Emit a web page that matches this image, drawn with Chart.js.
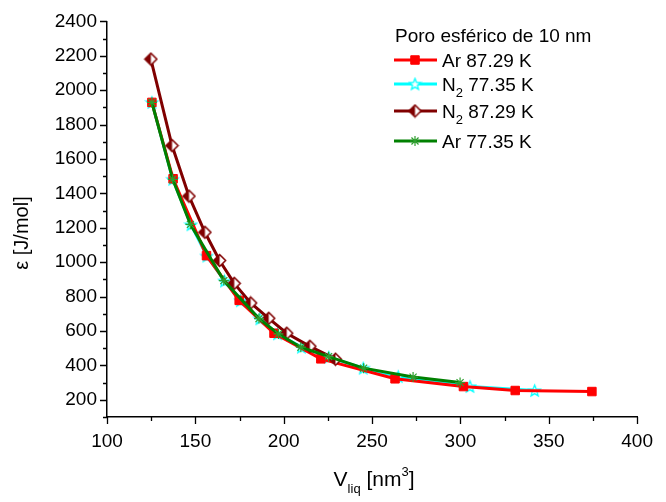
<!DOCTYPE html>
<html>
<head>
<meta charset="utf-8">
<script src="https://cdn.jsdelivr.net/npm/chart.js@4.4.0/dist/chart.umd.min.js"></script>
<style>
html,body{margin:0;padding:0;background:#fff;}
#wrap{width:666px;height:502px;}
</style>
</head>
<body>
<div id="wrap"><canvas id="c" width="666" height="502"></canvas></div>
<script>
// ---- data ----
const legendTitle = "Poro esférico de 10 nm";
const seriesNames = ["Ar 87.29 K", "N2 77.35 K", "N2 87.29 K", "Ar 77.35 K"];

const ar87V = [125.4, 137.4, 156.3, 174.8, 194.5, 221.0, 263.0, 301.7, 331.0, 374.4];
const ar87E = [1929, 1485, 1038, 778, 587, 438, 322, 277, 254, 248];

const n277V = [125.4, 137.2, 147.5, 156.5, 166.5, 175.5, 186.5, 196.5, 210.0, 225.5, 245.0, 264.8, 305.4, 342.0];
const n277E = [1929, 1482, 1218, 1036, 891, 776, 671, 584, 506, 448, 384, 335, 277, 254];

const n287V = [124.8, 136.8, 146.4, 155.4, 163.7, 172.0, 181.3, 191.5, 201.7, 214.8, 229.3];
const n287E = [2181, 1678, 1384, 1174, 1010, 877, 763, 674, 587, 511, 436];

const ar77V = [125.4, 137.2, 147.2, 166.1, 186.0, 197.0, 209.7, 225.4, 245.2, 273.2, 299.8];
const ar77E = [1929, 1482, 1220, 893, 672, 583, 506, 451, 384, 332, 300];

const xMin = 100, xMax = 400, xMajor = 50, xMinor = 25;
const yMin = 100, yMax = 2400, yMajor = 200, yMinor = 100;

function pts(xs, ys){ return xs.map((v,i)=>({x:v, y:ys[i]})); }

// ---- custom marker canvases ----
function halfDiamond(){
  const c = document.createElement('canvas'); c.width = 15; c.height = 15;
  const g = c.getContext('2d');
  const cx = 7.5, cy = 7.5, r = 6;
  g.beginPath(); g.moveTo(cx, cy-r); g.lineTo(cx+r, cy); g.lineTo(cx, cy+r); g.lineTo(cx-r, cy); g.closePath();
  g.fillStyle = '#fff'; g.fill();
  g.beginPath(); g.moveTo(cx, cy-r); g.lineTo(cx, cy+r); g.lineTo(cx-r, cy); g.closePath();
  g.fillStyle = '#800000'; g.fill();
  g.beginPath(); g.moveTo(cx, cy-r); g.lineTo(cx+r, cy); g.lineTo(cx, cy+r); g.lineTo(cx-r, cy); g.closePath();
  g.strokeStyle = '#800000'; g.lineWidth = 1.5; g.stroke();
  return c;
}
function openStar(){
  const c = document.createElement('canvas'); c.width = 15; c.height = 15;
  const g = c.getContext('2d');
  const cx = 7.5, cy = 8, R = 6, r = 2.6;
  g.beginPath();
  for (let i=0;i<10;i++){
    const a = -Math.PI/2 + i*Math.PI/5; const rr = i%2===0 ? R : r;
    const px = cx + rr*Math.cos(a), py = cy + rr*Math.sin(a);
    if(i===0) g.moveTo(px,py); else g.lineTo(px,py);
  }
  g.closePath(); g.fillStyle = '#fff'; g.fill();
  g.strokeStyle = '#00ffff'; g.lineWidth = 1.3; g.stroke();
  return c;
}
const diamondImg = halfDiamond();
const starImg = openStar();

const FONT = '"Liberation Sans", Arial, sans-serif';
const FS = 19;

// ---- ticks drawn from the scales (major longer, minor shorter) ----
const tickPlugin = {
  id: 'axisTicks',
  afterDraw(chart){
    const ctx = chart.ctx, ca = chart.chartArea, xs = chart.scales.x, ys = chart.scales.y;
    ctx.save();
    ctx.strokeStyle = '#000'; ctx.lineWidth = 1.3;
    ctx.beginPath();
    xs.ticks.forEach(t => {
      const px = Math.round(xs.getPixelForValue(t.value)) + 0.5;
      const len = (t.value % xMajor === 0) ? 7 : 4;
      ctx.moveTo(px, ca.bottom); ctx.lineTo(px, ca.bottom + len);
    });
    ys.ticks.forEach(t => {
      const py = Math.round(ys.getPixelForValue(t.value)) + 0.5;
      const len = (t.value % yMajor === 0) ? 7 : 4;
      ctx.moveTo(ca.left, py); ctx.lineTo(ca.left - len, py);
    });
    ctx.stroke();
    ctx.restore();
  }
};

// ---- axis titles and legend with sub/superscripts ----
function drawPieces(ctx, pieces, x, y){
  let cx = x;
  pieces.forEach(p => {
    ctx.font = p.f + 'px ' + FONT;
    ctx.fillText(p.t, cx, y + p.dy);
    cx += ctx.measureText(p.t).width;
  });
  return cx;
}
function piecesWidth(ctx, pieces){
  let w = 0;
  pieces.forEach(p => { ctx.font = p.f + 'px ' + FONT; w += ctx.measureText(p.t).width; });
  return w;
}
function labelPieces(name){
  if (name.startsWith('N2')) return [{t:'N', f:FS, dy:0}, {t:'2', f:13, dy:6}, {t:name.slice(2), f:FS, dy:0}];
  return [{t:name, f:FS, dy:0}];
}

const textPlugin = {
  id: 'texts',
  afterDraw(chart){
    const ctx = chart.ctx, ca = chart.chartArea;
    ctx.save();
    ctx.fillStyle = '#000';
    ctx.textBaseline = 'alphabetic';
    // x title
    const xt = [{t:'V', f:21, dy:0}, {t:'liq', f:13, dy:7}, {t:' [nm', f:21, dy:0}, {t:'3', f:13, dy:-10}, {t:']', f:21, dy:0}];
    const w = piecesWidth(ctx, xt);
    drawPieces(ctx, xt, (ca.left + ca.right)/2 - w/2 + 2, 486);
    // y title
    ctx.save();
    ctx.translate(28, 233);
    ctx.rotate(-Math.PI/2);
    ctx.font = '20px ' + FONT;
    ctx.textAlign = 'center';
    ctx.fillText('ε [J/mol]', 0, 0);
    ctx.restore();
    // legend
    ctx.font = FS + 'px ' + FONT;
    ctx.textAlign = 'left';
    ctx.fillText(legendTitle, 395, 42);
    const rows = [60, 84, 111, 141];
    chart.data.datasets.forEach((ds, i) => {
      const y = rows[i];
      ctx.strokeStyle = ds.borderColor; ctx.lineWidth = ds.borderWidth;
      ctx.beginPath(); ctx.moveTo(394, y); ctx.lineTo(437, y); ctx.stroke();
      const ps = ds.pointStyle;
      if (ps instanceof HTMLCanvasElement){
        ctx.drawImage(ps, 415 - ps.width/2, y - ps.height/2);
      } else {
        ctx.save();
        ctx.fillStyle = ds.pointBackgroundColor; ctx.strokeStyle = ds.pointBorderColor; ctx.lineWidth = ds.pointBorderWidth;
        ctx.beginPath();
        if (ps === 'rect'){ const s = ds.pointRadius*Math.SQRT1_2; ctx.rect(415-s, y-s, 2*s, 2*s); ctx.fill(); ctx.stroke(); }
        else if (ps === 'star'){
          const r = ds.pointRadius;
          ctx.moveTo(415-r, y); ctx.lineTo(415+r, y); ctx.moveTo(415, y-r); ctx.lineTo(415, y+r);
          const d = r*Math.SQRT1_2;
          ctx.moveTo(415-d, y-d); ctx.lineTo(415+d, y+d); ctx.moveTo(415-d, y+d); ctx.lineTo(415+d, y-d);
          ctx.stroke();
        }
        ctx.restore();
      }
      ctx.fillStyle = '#000';
      drawPieces(ctx, labelPieces(seriesNames[i]), 442, y + 7);
    });
    ctx.restore();
  }
};

const chart = new Chart(document.getElementById('c'), {
  type: 'scatter',
  data: {
    datasets: [
      { label: seriesNames[0], data: pts(ar87V, ar87E), showLine: true, order: 2,
        borderColor: '#ff0000', borderWidth: 3, pointStyle: 'rect', pointRadius: 6,
        pointBackgroundColor: '#ff0000', pointBorderColor: '#ff0000', pointBorderWidth: 1 },
      { label: seriesNames[1], data: pts(n277V, n277E), showLine: true, order: 3,
        borderColor: '#00ffff', borderWidth: 3, pointStyle: starImg, pointRadius: 7,
        pointBackgroundColor: '#fff', pointBorderColor: '#00ffff', pointBorderWidth: 1 },
      { label: seriesNames[2], data: pts(n287V, n287E), showLine: true, order: 1,
        borderColor: '#800000', borderWidth: 3, pointStyle: diamondImg, pointRadius: 7,
        pointBackgroundColor: '#fff', pointBorderColor: '#800000', pointBorderWidth: 1 },
      { label: seriesNames[3], data: pts(ar77V, ar77E), showLine: true, order: 0,
        borderColor: '#008000', borderWidth: 3, pointStyle: 'star', pointRadius: 5,
        pointBackgroundColor: '#008000', pointBorderColor: '#2e9e2e', pointBorderWidth: 1.2 }
    ]
  },
  options: {
    responsive: false,
    animation: false,
    devicePixelRatio: 1,
    layout: { padding: { top: 20, right: 19, left: 0, bottom: 0 } },
    plugins: { legend: { display: false }, tooltip: { enabled: false } },
    elements: { line: { tension: 0 } },
    scales: {
      x: {
        type: 'linear', min: xMin, max: xMax,
        afterFit(s){ s.height = 85; },
        ticks: { stepSize: xMinor, autoSkip: false, maxRotation: 0, padding: 13, color: '#000',
          font: { family: FONT, size: FS },
          callback: v => (v % xMajor === 0 ? String(v) : '') },
        grid: { display: false, drawTicks: false },
        border: { display: true, color: '#000', width: 1.5 }
      },
      y: {
        type: 'linear', min: yMin, max: yMax,
        afterFit(s){ s.width = 107; },
        ticks: { stepSize: yMinor, autoSkip: false, padding: 10, color: '#000',
          font: { family: FONT, size: FS },
          callback: v => (v % yMajor === 0 ? String(v) : '') },
        grid: { display: false, drawTicks: false },
        border: { display: true, color: '#000', width: 1.5 }
      }
    }
  },
  plugins: [tickPlugin, textPlugin]
});
</script>
</body>
</html>
